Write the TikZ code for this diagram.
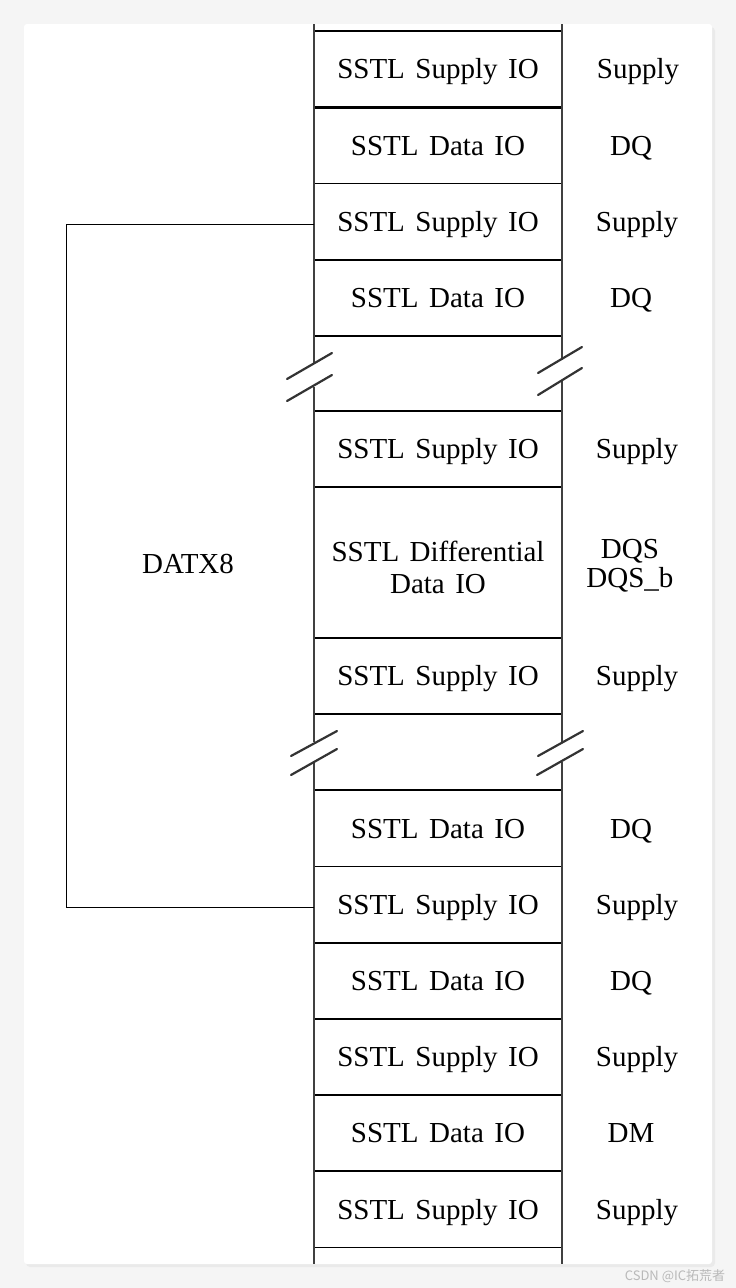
\documentclass[tikz,border=0pt]{standalone}
\usepackage{fontspec}
\setmainfont{Liberation Serif}[WordSpace=1.45]
\newfontfamily\cjkfont{Noto Sans CJK SC}
\usetikzlibrary{positioning}
\definecolor{pagegray}{RGB}{245,245,245}
\definecolor{shadowgray}{RGB}{234,234,234}
\definecolor{markgray}{RGB}{185,185,185}
\tikzset{
  iopic/.style={
    x=1pt,y=-1pt
    ,inner sep=0pt
    ,outer sep=0pt
  }
  ,padtext/.style={font=\fontsize{29}{32}\selectfont,text height=19.5pt,text depth=0pt}
  ,cell/.style={padtext,draw=black,line width=1.8pt
    ,minimum width=248pt,minimum height=76.2pt,align=center}
  ,supplycell/.style={cell}
  ,datacell/.style={cell}
  ,diffcell/.style={cell,minimum height=151pt,text height=61pt,text depth=0pt}
  ,pinname/.style={font=\fontsize{29}{29}\selectfont,align=center
    ,text height=19.5pt,text depth=0pt}
  ,colline/.style={draw=black!75,line width=1.6pt}
  ,breakmark/.style={draw=black!80,line width=2.2pt,line cap=round}
  ,bracket/.style={draw=black,line width=0.9pt}
  ,watermark/.style={font=\cjkfont\fontsize{13}{15}\selectfont,text=markgray}
}

\begin{document}
\begin{tikzpicture}[iopic]
    % page and card
    \fill[pagegray] (0,0) rectangle (736,1288);
    \fill[shadowgray,rounded corners=4pt] (26,27) rectangle (715,1267);
    \fill[white,rounded corners=3pt] (24,24) rectangle (712,1264);

    % pad stack
    \node[supplycell] (s1) at (438,69.1) {SSTL Supply IO};
    \node[datacell,below=0pt of s1] (s2) {SSTL Data IO};
    \node[supplycell,below=0pt of s2] (s3) {SSTL Supply IO};
    \node[datacell,below=0pt of s3] (s4) {SSTL Data IO};
    \node[supplycell,below=75pt of s4] (s5) {SSTL Supply IO};
    \node[diffcell,below=0pt of s5] (s6) {SSTL Differential\\Data IO};
    \node[supplycell,below=0pt of s6] (s7) {SSTL Supply IO};
    \node[datacell,below=76pt of s7] (s8) {SSTL Data IO};
    \node[supplycell,below=0pt of s8] (s9) {SSTL Supply IO};
    \node[datacell,below=0pt of s9] (s10) {SSTL Data IO};
    \node[supplycell,below=0pt of s10] (s11) {SSTL Supply IO};
    \node[datacell,below=0pt of s11] (s12) {SSTL Data IO};
    \node[supplycell,below=0pt of s12] (s13) {SSTL Supply IO};
    \draw[black,line width=3pt] (s1.south west) -- (s1.south east);

    % column edges, broken twice
    \draw[colline] (314,24) -- (314,363) (314,387) -- (314,742) (314,763) -- (314,1264);
    \draw[colline] (562,24) -- (562,360) (562,380) -- (562,742) (562,762) -- (562,1264);

    % break marks
    \draw[breakmark] (287,379) -- (332,353) (287,401) -- (332,375);
    \draw[breakmark] (538,373) -- (582,347) (538,395) -- (582,368);
    \draw[breakmark] (291,756) -- (337,731) (291,775) -- (337,749);
    \draw[breakmark] (538,756) -- (583,731) (537,775) -- (583,749);

    % pin names
    \node[pinname] (p1) at ([xshift=200pt]s1.center) {Supply};
    \node[pinname] (p2) at ([xshift=193pt]s2.center) {DQ};
    \node[pinname] (p3) at ([xshift=199pt]s3.center) {Supply};
    \node[pinname] (p4) at ([xshift=193pt]s4.center) {DQ};
    \node[pinname] (p5) at ([xshift=199pt]s5.center) {Supply};
    \node[pinname,text height=49pt,text depth=0pt] (p6)
      at ([xshift=192pt]s6.center) {DQS\\DQS\_b};
    \node[pinname] (p7) at ([xshift=199pt]s7.center) {Supply};
    \node[pinname] (p8) at ([xshift=193pt]s8.center) {DQ};
    \node[pinname] (p9) at ([xshift=199pt]s9.center) {Supply};
    \node[pinname] (p10) at ([xshift=193pt]s10.center) {DQ};
    \node[pinname] (p11) at ([xshift=199pt]s11.center) {Supply};
    \node[pinname] (p12) at ([xshift=193pt]s12.center) {DM};
    \node[pinname] (p13) at ([xshift=199pt]s13.center) {Supply};

    % byte lane bracket
    \node[padtext] (datx) at (188,564) {DATX8};
    \draw[bracket] ([yshift=-2.5pt]s3.west) -- ++(-248,0) |- ([yshift=-2.5pt]s9.west);

    \node[watermark] (mark) at (675,1276) {CSDN @IC拓荒者};
\end{tikzpicture}
\end{document}
